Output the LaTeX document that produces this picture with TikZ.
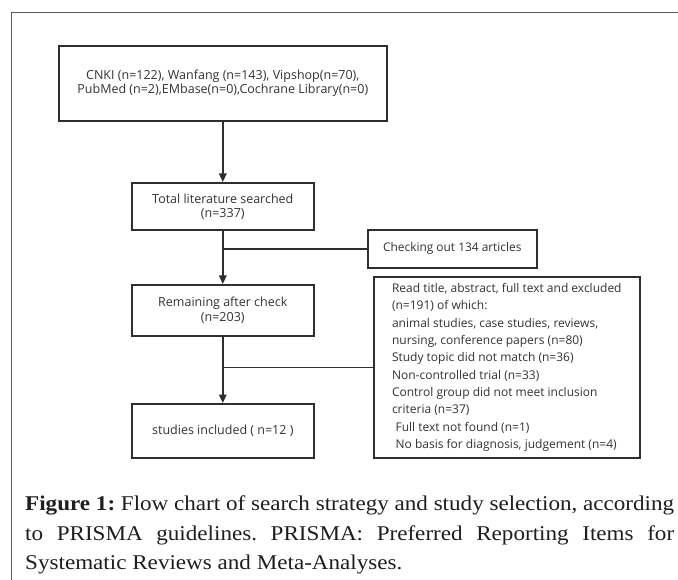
\documentclass[tikz,border=0pt]{standalone}
\usepackage{fontspec}
\setmainfont{Liberation Serif}
\newfontfamily\capfont[FakeStretch=1.1]{Liberation Serif}
\newfontfamily\boxfont{Open Sans}
\usetikzlibrary{arrows.meta}
\definecolor{boxc}{HTML}{2E2E2E}
\definecolor{textc}{HTML}{333333}
\definecolor{framec}{HTML}{5A5A5A}
\definecolor{capc}{HTML}{1E1E1E}
\frenchspacing
\begin{document}
\begin{tikzpicture}[x=1pt,y=-1pt,
  box/.style={draw=boxc, line width=1.6pt, inner sep=0pt, align=center, anchor=north west,
    text=textc, font=\boxfont\fontsize{12.5}{14.3}\selectfont},
  arr/.style={draw=boxc, line width=1.5pt, -{Triangle[length=8.5pt,width=7.5pt]}},
  ln/.style={draw=boxc, line width=1.5pt},
  captext/.style={anchor=base west, inner sep=0pt, text=capc, font=\capfont\fontsize{21}{29.5}\selectfont}]
\useasboundingbox (0,0) rectangle (678,580);
\fill[white] (0,0) rectangle (678,580);
\draw[framec, line width=1.8pt] (11.5,580) -- (11.5,12.5) -- (678,12.5);

\node[box, minimum width=328pt, minimum height=75pt] (src) at (58,45)
  {CNKI (n=122), Wanfang (n=143), Vipshop(n=70),\\PubMed (n=2),EMbase(n=0),Cochrane Library(n=0)};
\node[box, minimum width=182pt, minimum height=47.5pt] (total) at (131,182)
  {Total literature searched\\(n=337)};
\node[box, minimum width=169pt, minimum height=38pt, font=\boxfont\fontsize{11.9}{14.3}\selectfont] (check) at (367,229)
  {Checking out 134 articles};
\node[box, minimum width=182pt, minimum height=51pt] (remain) at (131,284)
  {Remaining after check\\(n=203)};
\node[box, minimum width=266pt, minimum height=181pt, align=left,
  font=\boxfont\fontsize{12}{17.3}\selectfont] (read) at (373,276)
  {Read title, abstract, full text and excluded\\
   (n=191) of which:\\
   animal studies, case studies, reviews,\\
   nursing, conference papers (n=80)\\
   Study topic did not match (n=36)\\
   Non-controlled trial (n=33)\\
   Control group did not meet inclusion\\
   criteria (n=37)\\
   \hspace*{0.3em}Full text not found (n=1)\\
   \hspace*{0.3em}No basis for diagnosis, judgement (n=4)};
\node[box, minimum width=182pt, minimum height=54pt] (studies) at (131,403)
  {studies included ( n=12 )};

\draw[arr] (src.south) -- (total.north);
\draw[arr] (total.south) -- (remain.north);
\draw[arr] (remain.south) -- (studies.north);
\draw[ln] (total.south |- check.west) -- (check.west);
\draw[ln] (remain.south |- read.west) -- (read.west);

\node[captext] (cap1) at (25,510) {\makebox[649pt][s]{\textbf{Figure 1:} Flow chart of search strategy and study selection, according}};
\node[captext] (cap2) at (25,540) {\makebox[649pt][s]{to PRISMA guidelines. PRISMA: Preferred Reporting Items for}};
\node[captext] (cap3) at (25,569.5) {Systematic Reviews and Meta-Analyses.};
\end{tikzpicture}
\end{document}
